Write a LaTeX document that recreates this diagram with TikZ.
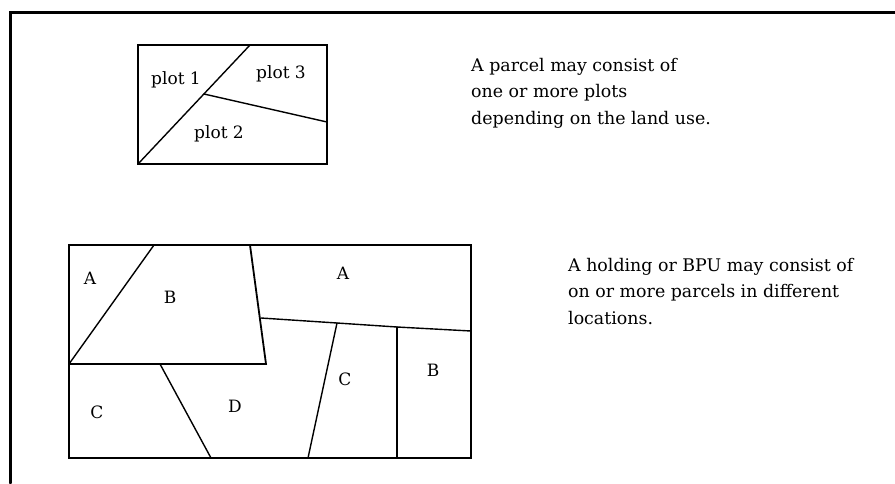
\documentclass[tikz,border=0pt]{standalone}
\usepackage{fontspec}
\setmainfont{DejaVu Serif}
\begin{document}
\begin{tikzpicture}[x=1pt,y=-1pt,
  frameline/.style={line width=3pt,line cap=round},
  boxline/.style={line width=1.8pt},
  splitline/.style={line width=1.4pt,line cap=round},
  lbl/.style={inner sep=0pt,font=\fontsize{17}{20}\selectfont},
  note/.style={inner sep=0pt,anchor=base west,align=left,font=\fontsize{17.4}{26.5}\selectfont}]
\useasboundingbox (0,0) rectangle (895,483);
\fill[white] (0,0) rectangle (895,483);

% outer frame (top and left edges)
\draw[frameline] (895,12.5) -- (10,12.5) -- (10,483);

% parcel made of plots
\coordinate (pTL) at (138,45);
\coordinate (pBR) at (327,164);
\draw[boxline] (pTL) rectangle (pBR);
\coordinate (pDiagA) at (138,164);
\coordinate (pDiagB) at (250,45);
\coordinate (pJoin) at (204,94);
\coordinate (pRight) at (327,122);
\draw[splitline] (pDiagA) -- (pDiagB);
\draw[splitline] (pJoin) -- (pRight);
\node[lbl] (plotA) at (176,80) {plot 1};
\node[lbl] (plotC) at (281,74) {plot 3};
\node[lbl] (plotB) at (219,134) {plot 2};

% anchored at the baseline of the last line
\node[note] (noteA) at (471,124) {A parcel may consist of\\one or more plots\\depending on the land use.};

% holding made of parcels
\coordinate (hTL) at (69,245);
\coordinate (hBR) at (471,458);
\draw[boxline] (hTL) rectangle (hBR);
\coordinate (h1) at (154,245);
\coordinate (h2) at (69,364);
\coordinate (h3) at (266,364);
\coordinate (h4) at (250,245);
\coordinate (h5) at (261,318);
\coordinate (h6) at (337,323);
\coordinate (h7) at (397,327);
\coordinate (h8) at (471,331);
\coordinate (h9) at (308,458);
\coordinate (h10) at (397,458);
\coordinate (h11) at (160,364);
\coordinate (h12) at (211,458);
\draw[splitline] (h1) -- (h2);
\draw[boxline] (h2) -- (h3) -- (h4);
\draw[splitline] (h5) -- (h6) -- (h7) -- (h8);
\draw[splitline] (h6) -- (h9);
\draw[splitline] (h7) -- (h10);
\draw[splitline] (h11) -- (h12);
\node[lbl] (pA1) at (90,278) {A};
\node[lbl] (pB1) at (170,297) {B};
\node[lbl] (pA2) at (343,273) {A};
\node[lbl] (pC1) at (97,412) {C};
\node[lbl] (pD) at (235,406) {D};
\node[lbl] (pC2) at (345,379) {C};
\node[lbl] (pB2) at (433,370) {B};

\node[note] (noteB) at (568,324) {A holding or BPU may consist of\\on or more parcels in different\\locations.};
\end{tikzpicture}
\end{document}
